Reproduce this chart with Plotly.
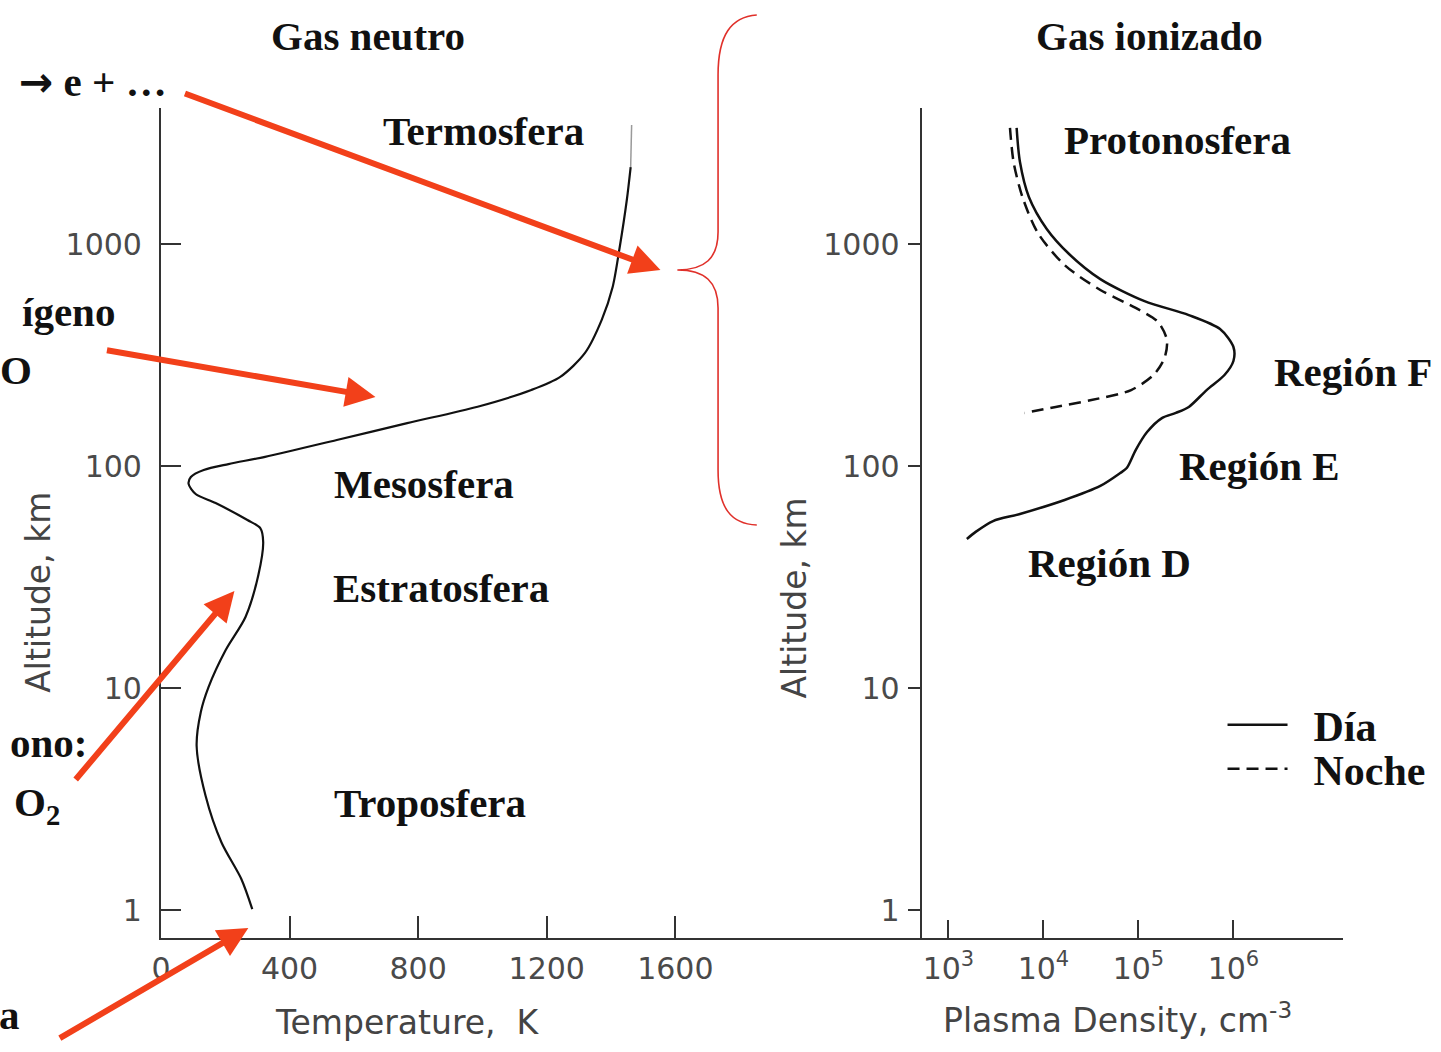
import plotly.graph_objects as go

W, H = 1441, 1052

# ---------------- data ----------------
# Neutral gas temperature profile (K) vs altitude (km)
temp_K = [284, 250, 188, 139, 111, 124, 148, 201, 263, 303, 318, 309, 269, 170, 108, 86, 93, 133,
          210, 324, 547, 766, 985, 1152, 1242, 1319, 1371, 1405, 1427, 1449, 1461]
temp_alt_km = [1.01, 1.38, 2.02, 3.26, 5.48, 7.8, 10.1, 14.8, 20.9, 32.3, 45.5, 52.5, 57.1, 68.1, 74.8, 83,
               89.2, 95.9, 102, 110, 131, 156, 185, 220, 252, 323, 455, 640, 969, 1578, 2222]
temp_top_K = [1461, 1464]
temp_top_alt_km = [2222, 3436]

# Plasma density (cm^-3) vs altitude (km), day
day_density = [5224, 5662, 7031, 10840, 18620, 39720, 115900, 338800, 722800, 1.0e6, 1.0e6, 805400,
               522400, 338800, 247700, 176600, 123300, 93540, 75340, 64270, 39720, 16710, 5662, 2951,
               1936, 1563]
day_alt_km = [3334, 2339, 1629, 1169, 901.5, 695, 553, 478.6, 414, 343.6, 297.2, 257, 219.8, 184.5,
              173.4, 164.4, 142.2, 118, 97.9, 92.9, 81.3, 70.3, 60.8, 56.5, 50.5, 46.9]

# Plasma density (cm^-3) vs altitude (km), night
night_density = [4446, 4853, 6012, 8730, 16710, 39720, 93540, 160700, 199500, 187900, 143900, 83750,
                 31990, 13460, 6339]
night_alt_km = [3334, 2339, 1629, 1122, 803.5, 620.9, 515.2, 445.7, 369.8, 306.2, 257, 219.8, 198.2,
                184.5, 173.4]

temp_ticks = [0, 400, 800, 1200, 1600]
alt_ticks = [1, 10, 100, 1000]
alt_tick_text = ["1", "10", "100", "1000"]
dens_ticks = [1e3, 1e4, 1e5, 1e6]
dens_tick_text = ["10<sup>3</sup>", "10<sup>4</sup>", "10<sup>5</sup>", "10<sup>6</sup>"]

# ---------------- helpers ----------------
def fx(p):
    return p / W

def fy(p):
    return 1 - p / H

AX = "#333333"
SANS = "DejaVu Sans"
TICKFONT = dict(family=SANS, size=30, color="#4a4a4a")
SERIF = "Liberation Serif"
RED = "#f2401a"

y_dom = [fy(938), fy(108)]
y_rng = [(910 - 938) / 222, (910 - 108) / 222]

fig = go.Figure()

fig.add_trace(go.Scatter(x=temp_K, y=temp_alt_km, mode="lines", xaxis="x", yaxis="y",
                         line=dict(color="#111111", width=2.2, shape="spline", smoothing=0.8),
                         showlegend=False, hoverinfo="skip"))
fig.add_trace(go.Scatter(x=temp_top_K, y=temp_top_alt_km, mode="lines", xaxis="x", yaxis="y",
                         line=dict(color="#9a9a9a", width=1.5), showlegend=False, hoverinfo="skip"))
fig.add_trace(go.Scatter(x=day_density, y=day_alt_km, mode="lines", xaxis="x2", yaxis="y2",
                         name="\u00a0\u00a0Día", legend="legend",
                         line=dict(color="#111111", width=2.5, shape="spline", smoothing=0.8)))
fig.add_trace(go.Scatter(x=night_density, y=night_alt_km, mode="lines", xaxis="x2", yaxis="y2",
                         name="\u00a0\u00a0Noche", legend="legend2",
                         line=dict(color="#111111", width=2.5, dash="12px,7px", shape="spline",
                                   smoothing=0.8)))

common = dict(showgrid=False, zeroline=False, showline=True, linecolor=AX, linewidth=2,
              tickcolor=AX, tickwidth=2, tickfont=TICKFONT)

legfont = dict(family=SERIF, size=42, color="#111111", weight="bold")

fig.update_layout(
    width=W, height=H, margin=dict(l=0, r=0, t=0, b=0),
    paper_bgcolor="white", plot_bgcolor="rgba(0,0,0,0)",
    xaxis=dict(domain=[fx(152), fx(918)], range=[0, (918 - 152) / 0.32375], anchor="y",
               tickvals=temp_ticks, ticks="inside", ticklen=22, ticklabelstandoff=3, **common),
    yaxis=dict(domain=y_dom, type="log", range=y_rng, anchor="x",
               tickvals=alt_ticks, ticktext=alt_tick_text, ticks="inside", ticklen=20,
               ticklabelstandoff=11, **common),
    xaxis2=dict(domain=[fx(918), fx(1342)], type="log", range=[2.718, 7.15], anchor="y2",
                tickvals=dens_ticks, ticktext=dens_tick_text, ticks="inside", ticklen=18,
                ticklabelstandoff=3, **common),
    yaxis2=dict(domain=y_dom, type="log", range=y_rng, anchor="x2",
                tickvals=alt_ticks, ticktext=alt_tick_text, ticks="outside", ticklen=12,
                ticklabelstandoff=2, **common),
    yaxis3=dict(domain=y_dom, type="log", range=y_rng, anchor="x2", overlaying="y2",
                tickvals=alt_ticks, ticks="inside", ticklen=12, tickcolor=AX, tickwidth=2,
                showticklabels=False, showline=False, showgrid=False, zeroline=False),
    showlegend=True,
    legend=dict(x=fx(1221), y=fy(725), xanchor="left", yanchor="middle",
                bgcolor="rgba(0,0,0,0)", font=legfont, itemwidth=60),
    legend2=dict(x=fx(1221), y=fy(769), xanchor="left", yanchor="middle",
                 bgcolor="rgba(0,0,0,0)", font=legfont, itemwidth=60),
)

annotations = []

def label(text, x, y, size=41, anchor="center"):
    annotations.append(dict(text=text, x=fx(x), y=fy(y), xref="paper", yref="paper",
                            xanchor=anchor, yanchor="middle", showarrow=False,
                            font=dict(family=SERIF, size=size, color="#111111", weight="bold")))

label("Gas neutro", 360, 36)
label("Gas ionizado", 1147, 36)
label("Termosfera", 477, 131)
label("Mesosfera", 417, 484)
label("Estratosfera", 434, 588)
label("Troposfera", 423, 803)
label("Protonosfera", 1176, 140)
label("Región F", 1352, 372)
label("Región E", 1258, 466)
label("Región D", 1107, 563)
label("<span style='font-family:DejaVu Sans'>→</span> e + …", 160, 82, anchor="right")
label("ígeno", 108, 312, anchor="right")
label("O", 24, 370, anchor="right")
label("ono:", 80, 743, anchor="right")
label("O<sub>2</sub>", 52, 805, anchor="right")
label("a", 12, 1015, anchor="right")

sans = dict(family=SANS, size=33, color="#444444")
def sans_label(text, x, y, angle=0):
    annotations.append(dict(text=text, x=fx(x), y=fy(y), xref="paper", yref="paper",
                            xanchor="center", yanchor="middle", showarrow=False,
                            textangle=angle, font=sans))

sans_label("Temperature,  K", 400, 1022)
sans_label("Plasma Density, cm<sup>-3</sup>", 1115, 1018)
sans_label("Altitude, km", 28, 592, -90)
sans_label("Altitude, km", 789, 598, -90)

# red arrows (head, tail) in pixels
for (hx, hy), (tx, ty) in [((655, 270), (178, 93)), ((368, 397), (98, 350)),
                           ((226, 591), (66, 781)), ((240, 928), (50, 1039))]:
    annotations.append(dict(text="", x=fx(hx), y=fy(hy), xref="paper", yref="paper",
                            ax=tx - hx, ay=ty - hy, axref="pixel", ayref="pixel",
                            showarrow=True, arrowhead=2, arrowsize=1.0, arrowwidth=6,
                            arrowcolor=RED, standoff=0))

fig.update_layout(annotations=annotations)

# red brace
def P(x, y):
    return f"{fx(x):.5f},{fy(y):.5f}"
path = (f"M {P(752, 15)} C {P(726, 17)} {P(713, 35)} {P(713, 75)} L {P(713, 232)} "
        f"C {P(713, 258)} {P(700, 270)} {P(672, 270)} C {P(700, 270)} {P(713, 282)} {P(713, 308)} "
        f"L {P(713, 470)} C {P(713, 508)} {P(726, 524)} {P(752, 525)}")
fig.add_shape(type="path", path=path, xref="paper", yref="paper",
              line=dict(color="#e0302a", width=1.6))

fig.write_html("out.html", config={"displayModeBar": False},
               post_script="document.body.style.margin='0px';document.body.style.padding='0px';")
